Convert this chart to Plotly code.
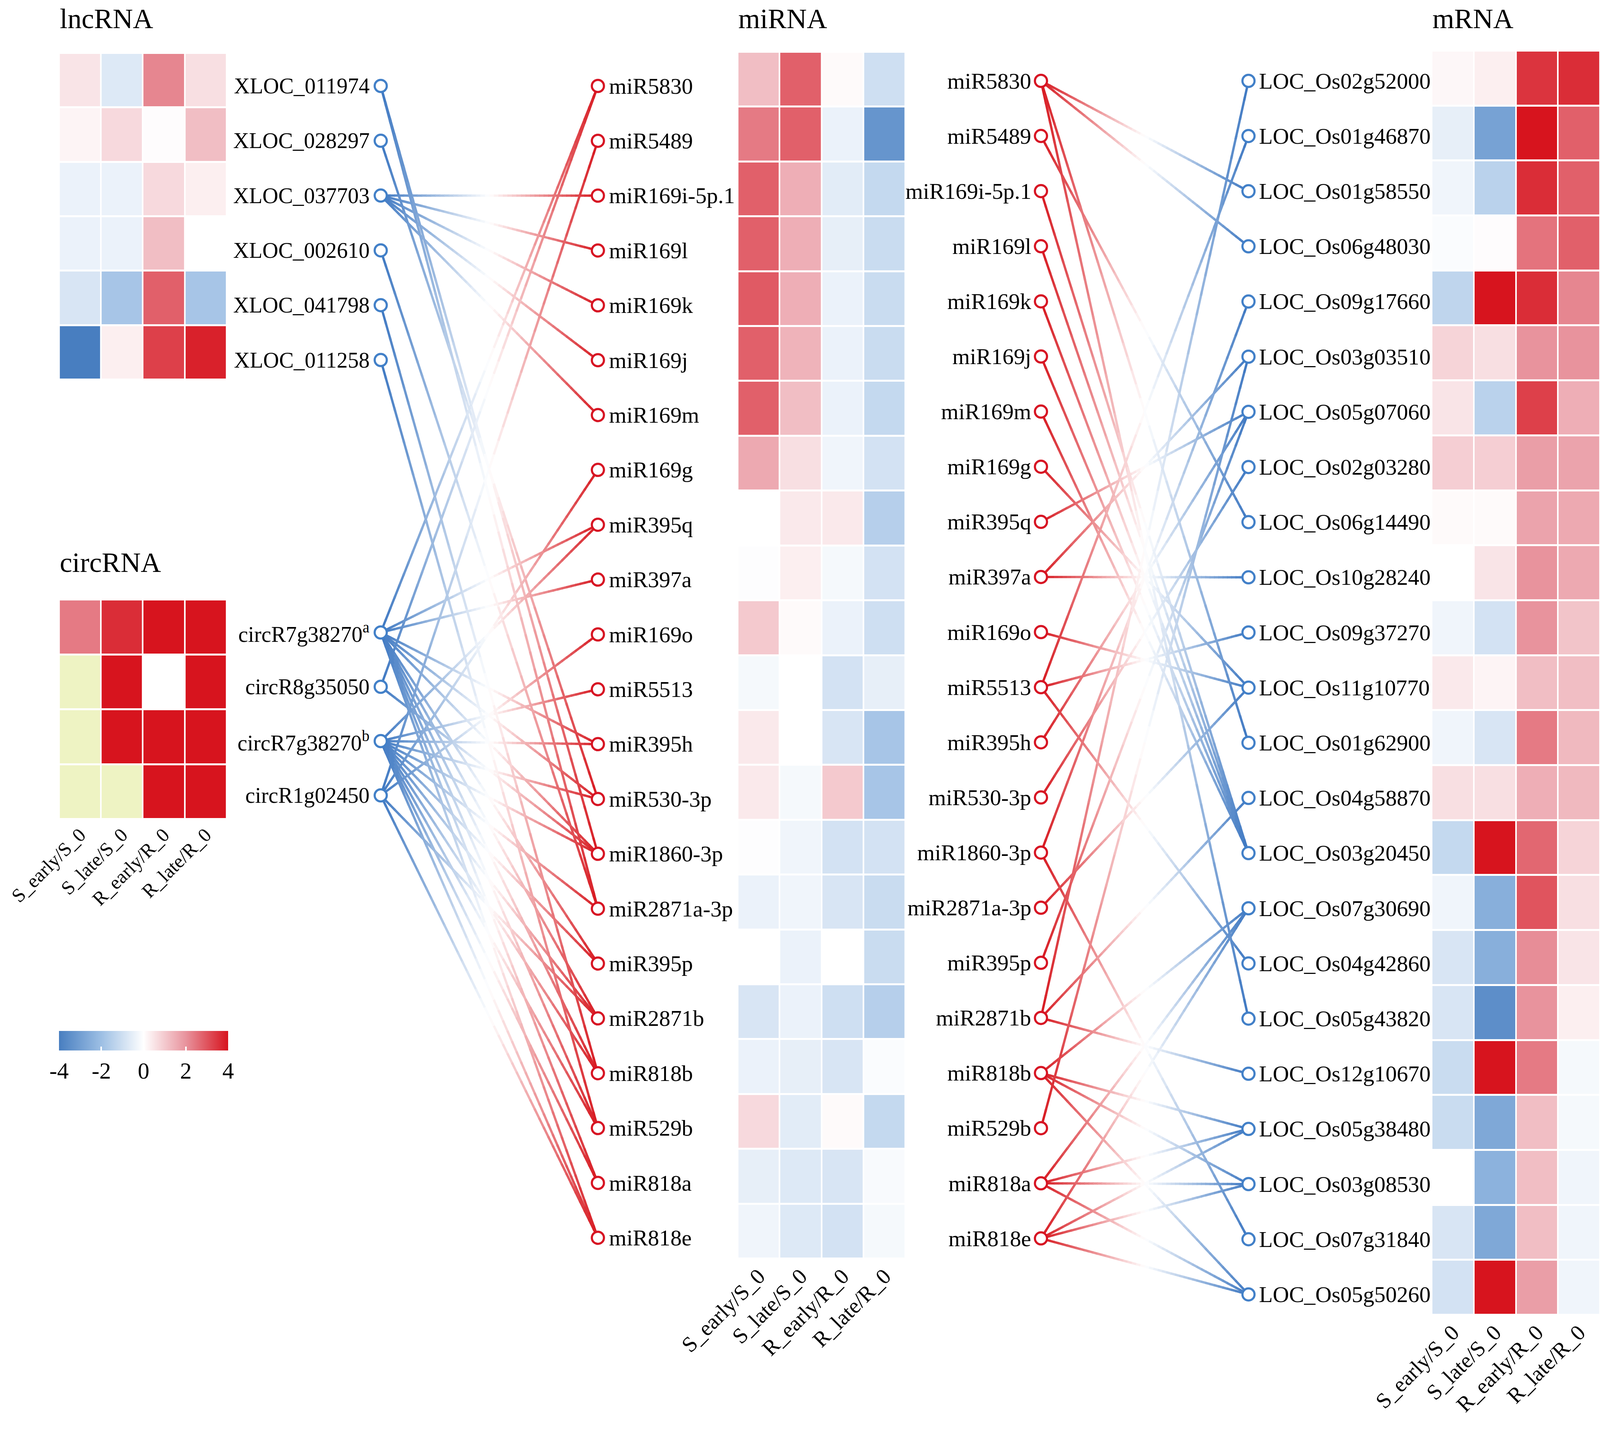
import numpy as np
import plotly.graph_objects as go

# ---------------- data ----------------
conditions = ["S_early/S_0", "S_late/S_0", "R_early/R_0", "R_late/R_0"]

lnc_names = ["XLOC_011974", "XLOC_028297", "XLOC_037703", "XLOC_002610", "XLOC_041798", "XLOC_011258"]
lnc_values = [
    [0.5, -0.7, 2.2, 0.6],
    [0.2, 0.7, 0.05, 1.2],
    [-0.4, -0.4, 0.7, 0.3],
    [-0.4, -0.4, 1.2, 0.0],
    [-0.8, -1.8, 2.8, -1.8],
    [-4.0, 0.3, 3.3, 3.8],
]

circ_ids = ["circR7g38270a", "circR8g35050", "circR7g38270b", "circR1g02450"]
circ_labels = ["circR7g38270<sup>a</sup>", "circR8g35050", "circR7g38270<sup>b</sup>", "circR1g02450"]
circ_values = [
    [2.4, 3.6, 4.0, 4.0],
    [None, 4.0, 0.0, 4.0],
    [None, 4.0, 4.0, 4.0],
    [None, None, 4.0, 4.0],
]

mir_names = ["miR5830", "miR5489", "miR169i-5p.1", "miR169l", "miR169k", "miR169j", "miR169m",
             "miR169g", "miR395q", "miR397a", "miR169o", "miR5513", "miR395h", "miR530-3p",
             "miR1860-3p", "miR2871a-3p", "miR395p", "miR2871b", "miR818b", "miR529b",
             "miR818a", "miR818e"]
mir_values = [
    [1.2, 2.8, 0.1, -1.0],
    [2.4, 2.8, -0.4, -3.3],
    [2.8, 1.5, -0.6, -1.2],
    [2.8, 1.5, -0.5, -1.1],
    [2.9, 1.5, -0.4, -1.1],
    [2.8, 1.4, -0.4, -1.1],
    [2.8, 1.2, -0.4, -1.2],
    [1.6, 0.6, -0.3, -0.9],
    [0.0, 0.4, 0.4, -1.5],
    [-0.05, 0.3, -0.2, -0.9],
    [1.0, 0.1, -0.4, -1.0],
    [-0.2, 0.0, -0.9, -0.5],
    [0.4, 0.0, -0.8, -1.8],
    [0.4, -0.2, 1.0, -1.8],
    [-0.05, -0.3, -0.9, -0.9],
    [-0.4, -0.3, -0.8, -1.1],
    [0.0, -0.4, 0.0, -1.1],
    [-0.8, -0.4, -1.0, -1.5],
    [-0.4, -0.5, -0.8, -0.1],
    [0.7, -0.6, 0.1, -1.2],
    [-0.5, -0.7, -0.8, -0.15],
    [-0.3, -0.7, -0.9, -0.2],
]

mrna_names = ["LOC_Os02g52000", "LOC_Os01g46870", "LOC_Os01g58550", "LOC_Os06g48030",
              "LOC_Os09g17660", "LOC_Os03g03510", "LOC_Os05g07060", "LOC_Os02g03280",
              "LOC_Os06g14490", "LOC_Os10g28240", "LOC_Os09g37270", "LOC_Os11g10770",
              "LOC_Os01g62900", "LOC_Os04g58870", "LOC_Os03g20450", "LOC_Os07g30690",
              "LOC_Os04g42860", "LOC_Os05g43820", "LOC_Os12g10670", "LOC_Os05g38480",
              "LOC_Os03g08530", "LOC_Os07g31840", "LOC_Os05g50260"]
mrna_values = [
    [0.15, 0.3, 3.5, 3.6],
    [-0.5, -2.9, 4.0, 2.8],
    [-0.3, -1.4, 3.6, 2.8],
    [-0.1, 0.05, 2.5, 2.8],
    [-1.3, 4.0, 3.6, 2.2],
    [0.8, 0.6, 2.0, 2.0],
    [0.5, -1.4, 3.3, 1.5],
    [0.9, 0.9, 1.8, 1.7],
    [0.1, 0.1, 1.7, 1.6],
    [0.0, 0.5, 2.0, 1.6],
    [-0.3, -0.9, 2.0, 1.1],
    [0.4, 0.2, 1.2, 1.2],
    [-0.3, -0.8, 2.4, 1.3],
    [0.6, 0.6, 1.5, 1.3],
    [-1.2, 4.0, 2.7, 0.8],
    [-0.3, -2.5, 3.0, 0.6],
    [-0.8, -2.5, 2.1, 0.5],
    [-0.8, -3.5, 2.0, 0.3],
    [-1.1, 4.0, 2.4, -0.2],
    [-1.1, -2.7, 1.2, -0.2],
    [0.0, -2.4, 1.2, -0.3],
    [-0.8, -2.7, 1.2, -0.3],
    [-0.9, 4.0, 1.8, -0.3],
]

# lncRNA / circRNA  ->  miRNA
left_edges = [
    ("XLOC_011974", "miR1860-3p"), ("XLOC_011974", "miR2871a-3p"),
    ("XLOC_028297", "miR530-3p"),
    ("XLOC_037703", "miR169i-5p.1"), ("XLOC_037703", "miR169l"), ("XLOC_037703", "miR169k"),
    ("XLOC_037703", "miR169j"), ("XLOC_037703", "miR169m"),
    ("XLOC_002610", "miR2871a-3p"),
    ("XLOC_041798", "miR818b"),
    ("XLOC_011258", "miR529b"),
    ("circR7g38270a", "miR5830"), ("circR7g38270a", "miR395q"), ("circR7g38270a", "miR397a"),
    ("circR7g38270a", "miR395h"), ("circR7g38270a", "miR530-3p"), ("circR7g38270a", "miR1860-3p"),
    ("circR7g38270a", "miR395p"), ("circR7g38270a", "miR2871b"), ("circR7g38270a", "miR818b"),
    ("circR7g38270a", "miR529b"), ("circR7g38270a", "miR818a"), ("circR7g38270a", "miR818e"),
    ("circR8g35050", "miR5830"), ("circR8g35050", "miR1860-3p"),
    ("circR7g38270b", "miR395q"), ("circR7g38270b", "miR5513"), ("circR7g38270b", "miR395h"),
    ("circR7g38270b", "miR530-3p"), ("circR7g38270b", "miR1860-3p"), ("circR7g38270b", "miR2871a-3p"),
    ("circR7g38270b", "miR395p"), ("circR7g38270b", "miR2871b"), ("circR7g38270b", "miR818b"),
    ("circR7g38270b", "miR529b"), ("circR7g38270b", "miR818a"), ("circR7g38270b", "miR818e"),
    ("circR1g02450", "miR5489"), ("circR1g02450", "miR169g"), ("circR1g02450", "miR169o"),
    ("circR1g02450", "miR2871b"), ("circR1g02450", "miR818e"),
]

# miRNA -> mRNA
right_edges = [
    ("miR5830", "LOC_Os01g58550"), ("miR5830", "LOC_Os06g48030"),
    ("miR5830", "LOC_Os01g62900"), ("miR5830", "LOC_Os05g43820"),
    ("miR5489", "LOC_Os06g14490"),
    ("miR169i-5p.1", "LOC_Os03g20450"), ("miR169l", "LOC_Os03g20450"),
    ("miR169k", "LOC_Os03g20450"), ("miR169j", "LOC_Os03g20450"),
    ("miR169m", "LOC_Os03g20450"),
    ("miR169g", "LOC_Os11g10770"),
    ("miR395q", "LOC_Os05g07060"),
    ("miR397a", "LOC_Os03g03510"), ("miR397a", "LOC_Os10g28240"),
    ("miR169o", "LOC_Os11g10770"),
    ("miR5513", "LOC_Os01g46870"), ("miR5513", "LOC_Os09g37270"), ("miR5513", "LOC_Os04g42860"),
    ("miR395h", "LOC_Os05g07060"),
    ("miR530-3p", "LOC_Os02g03280"),
    ("miR1860-3p", "LOC_Os09g17660"), ("miR1860-3p", "LOC_Os07g31840"),
    ("miR2871a-3p", "LOC_Os11g10770"),
    ("miR395p", "LOC_Os05g07060"),
    ("miR2871b", "LOC_Os02g52000"), ("miR2871b", "LOC_Os04g58870"), ("miR2871b", "LOC_Os12g10670"),
    ("miR818b", "LOC_Os07g30690"), ("miR818b", "LOC_Os05g38480"),
    ("miR818b", "LOC_Os03g08530"), ("miR818b", "LOC_Os05g50260"),
    ("miR529b", "LOC_Os03g03510"),
    ("miR818a", "LOC_Os07g30690"), ("miR818a", "LOC_Os05g38480"),
    ("miR818a", "LOC_Os03g08530"), ("miR818a", "LOC_Os05g50260"),
    ("miR818e", "LOC_Os07g30690"), ("miR818e", "LOC_Os05g38480"),
    ("miR818e", "LOC_Os03g08530"), ("miR818e", "LOC_Os05g50260"),
]

# ---------------- layout constants ----------------
# Positions are given on a 5312 x 3704 canvas that is mapped onto the whole
# browser window; font sizes are scaled by F so the labels fit the columns.
W, H = 5312, 3704
F = 0.78
FONT = "Liberation Serif"
BLUE = np.array([62, 120, 194])
RED = np.array([215, 25, 32])
WHITE = np.array([255, 255, 255])
NODE_BLUE = "rgb(66,128,200)"
NODE_RED = "rgb(215,20,35)"
NA_COLOR = "#EEF3C3"
COLORSCALE = [[0, "#487EC0"], [0.25, "#9DBFE4"], [0.5, "#FFFFFF"], [0.75, "#E8939D"], [1, "#D7141E"]]

GEO = {  # heatmap boxes (x0, x1, y0, y1)
    "lnc": (196, 752, 136, 972),
    "circ": (196, 752, 1535, 2097),
    "mir": (2449, 3006, 133, 3222),
    "mrna": (4753, 5312, 130, 3366),
}
X_SRC, X_MIR_L, X_MIR_R, X_MRNA = 1264, 1985, 3456, 4145


def ypos(start, step, n):
    return [start + step * i for i in range(n)]


lnc_y = ypos(220, 140.3, len(lnc_names))
circ_y = ypos(1619, 139.0, len(circ_ids))
mirL_y = ypos(220, 140.4, len(mir_names))
mirR_y = ypos(207, 141.1, len(mir_names))
mrna_y = ypos(207, 141.2, len(mrna_names))

src_pos = {n: y for n, y in zip(lnc_names + circ_ids, lnc_y + circ_y)}
mirL_pos = dict(zip(mir_names, mirL_y))
mirR_pos = dict(zip(mir_names, mirR_y))
mrna_pos = dict(zip(mrna_names, mrna_y))


def grad(t, c0, c1):
    if t < 0.5:
        c = c0 + (WHITE - c0) * (t / 0.5)
    else:
        c = WHITE + (c1 - WHITE) * ((t - 0.5) / 0.5)
    return "rgb(%d,%d,%d)" % tuple(np.round(c).astype(int))


fig = go.Figure()


def add_edges(edges, xa, ya, xb, yb, c0, c1, nseg=48):
    for k in range(nseg):
        t0 = k / nseg
        t1 = min(1.0, (k + 1) / nseg + 0.004)
        xs, ys = [], []
        for s, t in edges:
            y0, y1 = ya[s], yb[t]
            xs += [xa + (xb - xa) * t0, xa + (xb - xa) * t1, None]
            ys += [y0 + (y1 - y0) * t0, y0 + (y1 - y0) * t1, None]
        fig.add_trace(go.Scatter(x=xs, y=ys, mode="lines",
                                 line=dict(color=grad((k + 0.5) / nseg, c0, c1), width=6),
                                 hoverinfo="skip", showlegend=False, xaxis="x", yaxis="y"))


add_edges(left_edges, X_SRC, src_pos, X_MIR_L, mirL_pos, BLUE, RED)
add_edges(right_edges, X_MIR_R, mirR_pos, X_MRNA, mrna_pos, RED, BLUE)


def add_nodes(x, ys, color):
    fig.add_trace(go.Scatter(x=[x] * len(ys), y=ys, mode="markers",
                             marker=dict(symbol="circle", size=31, color="white",
                                         line=dict(color=color, width=5.5)),
                             hoverinfo="skip", showlegend=False, xaxis="x", yaxis="y"))


add_nodes(X_SRC, lnc_y + circ_y, NODE_BLUE)
add_nodes(X_MIR_L, mirL_y, NODE_RED)
add_nodes(X_MIR_R, mirR_y, NODE_RED)
add_nodes(X_MRNA, mrna_y, NODE_BLUE)

# ---------------- heatmaps ----------------
heat_specs = [
    ("lnc", 2, lnc_values, False, 72),
    ("circ", 3, circ_values, True, 64),
    ("mir", 4, mir_values, True, 72),
    ("mrna", 5, mrna_values, True, 72),
]
axis_updates = {}
for key, ax, z, show, tsize in heat_specs:
    x0, x1, y0, y1 = GEO[key]
    n = len(z)
    axis_updates[f"xaxis{ax}"] = dict(
        domain=[x0 / W, x1 / W], anchor=f"y{ax}", range=[-0.5, 3.5],
        tickmode="array", tickvals=[0, 1, 2, 3], ticktext=conditions, tickangle=-45,
        showticklabels=show, showgrid=False, zeroline=False, showline=False, ticks="",
        ticklabeloverflow="allow",
        tickfont=dict(family=FONT, size=tsize * F, color="black"), fixedrange=True, automargin=False)
    axis_updates[f"yaxis{ax}"] = dict(
        domain=[1 - y1 / H, 1 - y0 / H], anchor=f"x{ax}", range=[n - 0.5, -0.5],
        visible=False, fixedrange=True, automargin=False)
    if key == "circ":
        na = [[1 if v is None else None for v in row] for row in z]
        fig.add_trace(go.Heatmap(z=na, x=[0, 1, 2, 3], y=list(range(n)),
                                 colorscale=[[0, NA_COLOR], [1, NA_COLOR]], showscale=False,
                                 xgap=4, ygap=5, hoverinfo="skip",
                                 xaxis=f"x{ax}", yaxis=f"y{ax}"))
    fig.add_trace(go.Heatmap(z=z, x=[0, 1, 2, 3], y=list(range(n)), coloraxis="coloraxis",
                             xgap=4, ygap=5, hoverinfo="skip",
                             xaxis=f"x{ax}", yaxis=f"y{ax}"))


# ---------------- text ----------------
def label(x, y, text, anchor, size=74):
    fig.add_annotation(x=x, y=y, xref="x", yref="y", text=text, showarrow=False,
                       xanchor=anchor, yanchor="middle",
                       font=dict(family=FONT, size=size * F, color="black"))


for name, y in zip(lnc_names, lnc_y):
    label(X_SRC - 34, y, name, "right", 72)
for name, y in zip(circ_labels, circ_y):
    label(X_SRC - 34, y, name, "right", 72)
for name, y in zip(mir_names, mirL_y):
    label(X_MIR_L + 34, y, name, "left")
for name, y in zip(mir_names, mirR_y):
    label(X_MIR_R - 30, y, name, "right")
for name, y in zip(mrna_names, mrna_y):
    label(X_MRNA + 32, y, name, "left")

for text, key, y in [("lncRNA", "lnc", 48), ("circRNA", "circ", 1440),
                     ("miRNA", "mir", 48), ("mRNA", "mrna", 48)]:
    label(GEO[key][0], y, text, "left", 92)

fig.update_layout(
    autosize=True, margin=dict(l=0, r=0, t=0, b=0, pad=0, autoexpand=False),
    paper_bgcolor="white", plot_bgcolor="rgba(0,0,0,0)", showlegend=False,
    xaxis=dict(range=[0, W], domain=[0, 1], visible=False, fixedrange=True),
    yaxis=dict(range=[H, 0], domain=[0, 1], visible=False, fixedrange=True),
    coloraxis=dict(
        cmin=-4, cmax=4, colorscale=COLORSCALE,
        colorbar=dict(orientation="h", x=196 / W, xanchor="left", y=1 - 2639 / H, yanchor="top",
                      len=(757 - 196) / W, lenmode="fraction", thickness=50, thicknessmode="pixels",
                      outlinewidth=0, tickmode="array", tickvals=[-4, -2, 0, 2, 4],
                      ticktext=["-4", "-2", "0", "2", "4"], ticks="inside", ticklen=10,
                      tickcolor="white", tickwidth=4, xpad=0, ypad=0,
                      tickfont=dict(family=FONT, size=76 * F, color="black"))),
    **axis_updates,
)

fig.write_html("out.html", default_width="100vw", default_height="100vh",
               config={"displayModeBar": False},
               post_script="document.body.style.margin='0px';document.body.style.overflow='hidden';")
